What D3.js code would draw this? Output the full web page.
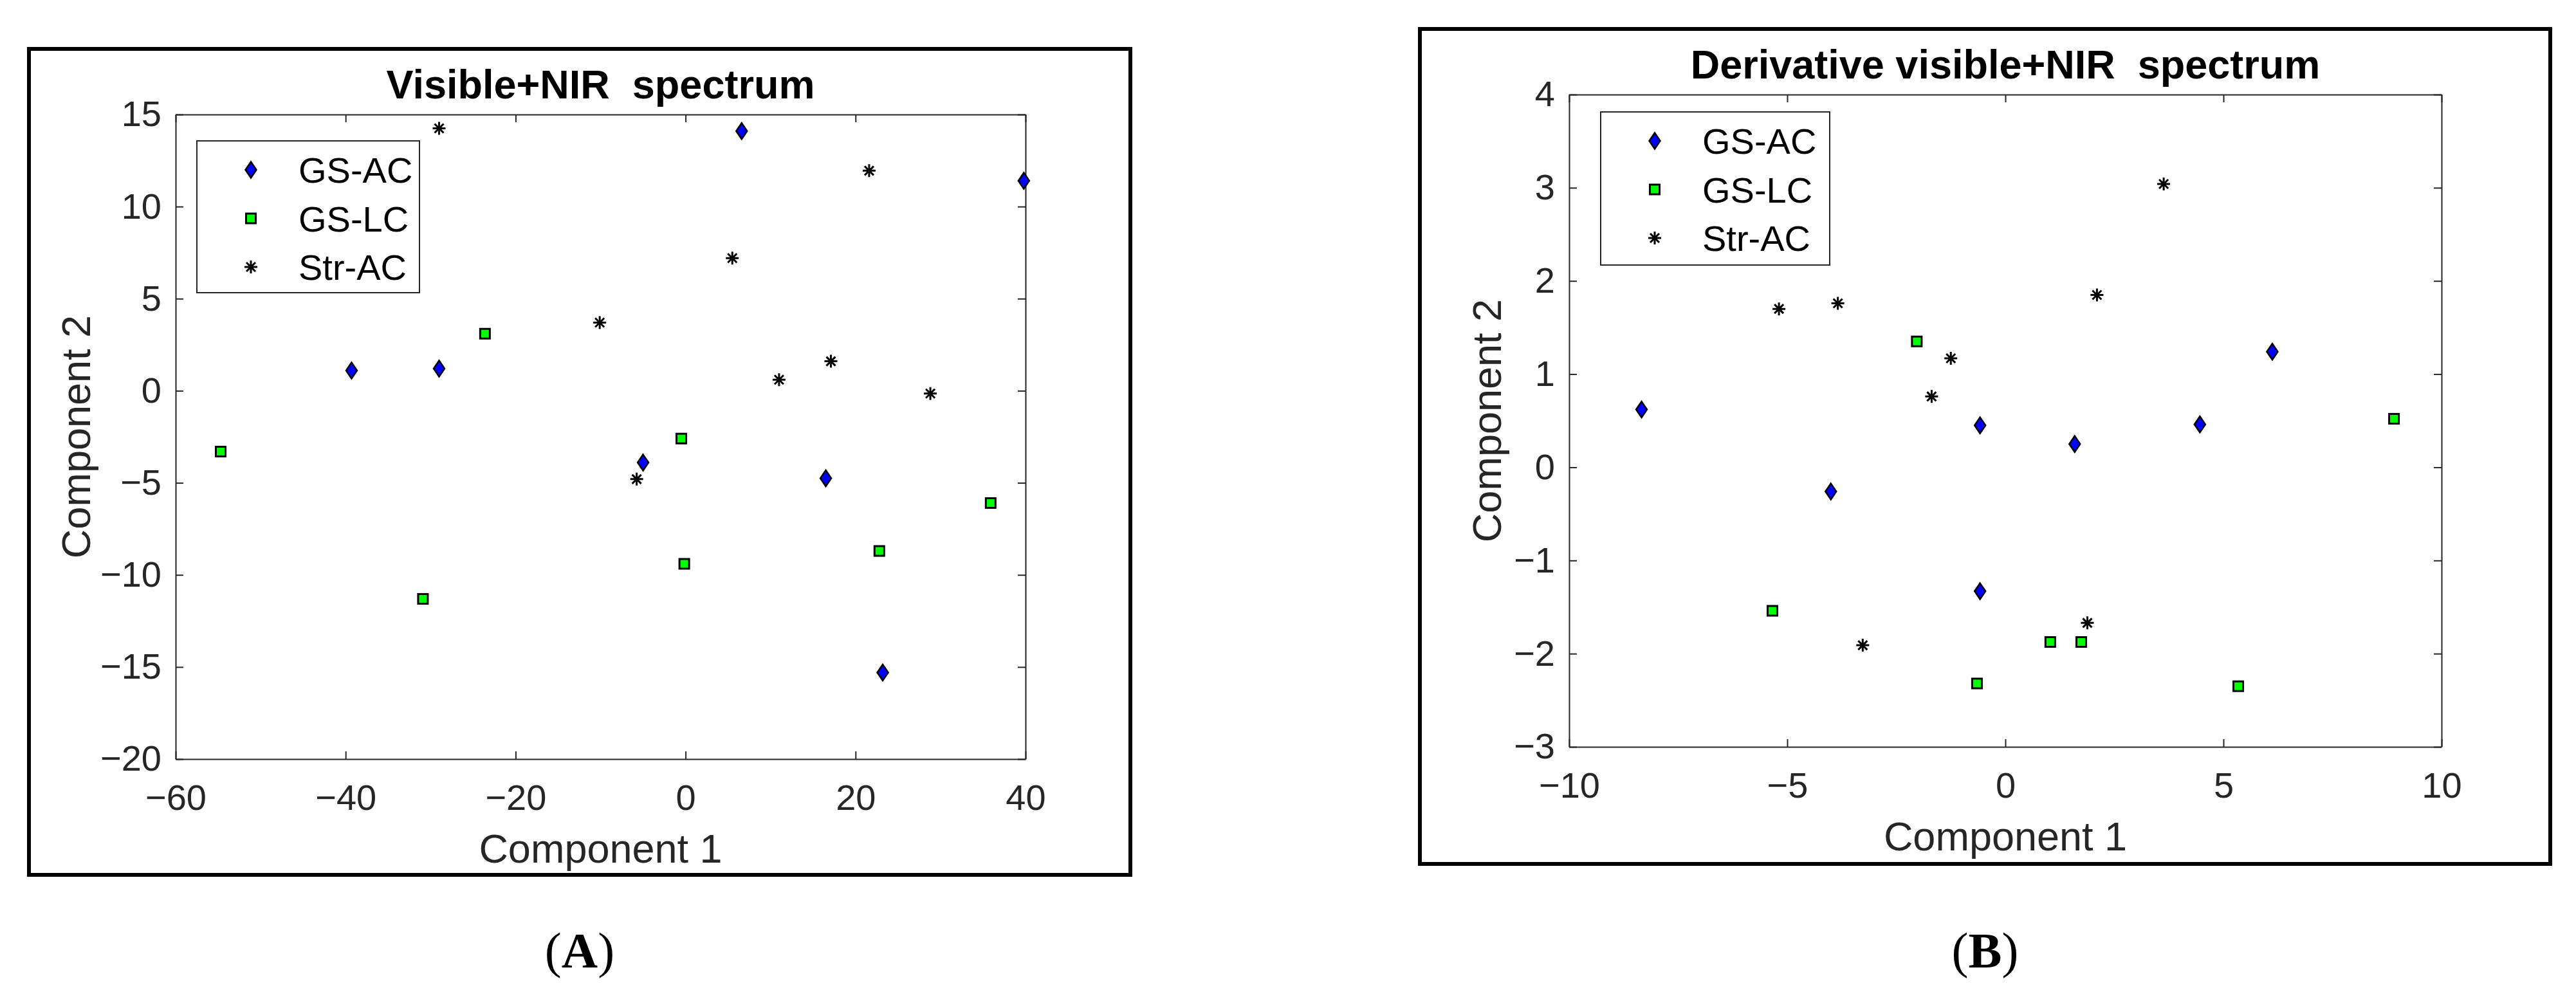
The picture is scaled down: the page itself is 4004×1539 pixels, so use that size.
<!DOCTYPE html>
<html>
<head>
<meta charset="utf-8">
<script src="https://cdn.jsdelivr.net/npm/d3@7"></script>
<style>
  body { margin: 0; background: #fff; }
  text { font-family: "Liberation Sans", Arial, Helvetica, sans-serif; }
</style>
</head>
<body>
<div id="chart"></div>
<script>
// ---- data ----
var seriesNames = ["GS-AC", "GS-LC", "Str-AC"];

// (A) Visible+NIR spectrum
var visGsAc  = [[-39.3, 1.1], [-29.0, 1.2], [6.6, 14.1], [39.8, 11.4], [-5.0, -3.9], [16.5, -4.75], [23.2, -15.3]];
var visGsLc  = [[-54.7, -3.3], [-30.9, -11.3], [-23.6, 3.1], [-0.5, -2.6], [-0.15, -9.4], [22.8, -8.7], [35.9, -6.1]];
var visStrAc = [[-29.0, 14.25], [21.6, 11.95], [5.5, 7.2], [-10.1, 3.7], [11.0, 0.6], [17.1, 1.6], [28.8, -0.15], [-5.75, -4.8]];
var visXTicks = [-60, -40, -20, 0, 20, 40];
var visYTicks = [-20, -15, -10, -5, 0, 5, 10, 15];

// (B) Derivative visible+NIR spectrum
var derGsAc  = [[-8.34, 0.62], [-4.0, -0.26], [-0.58, 0.45], [-0.58, -1.33], [1.59, 0.25], [4.46, 0.46], [6.12, 1.24]];
var derGsLc  = [[-5.34, -1.54], [-2.03, 1.35], [-0.65, -2.32], [1.03, -1.875], [1.74, -1.875], [5.34, -2.35], [8.91, 0.52]];
var derStrAc = [[-5.19, 1.70], [-3.84, 1.76], [-1.25, 1.17], [-1.69, 0.76], [2.10, 1.85], [3.63, 3.04], [-3.27, -1.91], [1.88, -1.67]];
var derXTicks = [-10, -5, 0, 5, 10];
var derYTicks = [-3, -2, -1, 0, 1, 2, 3, 4];

// ---- marker shapes ----
var markers = {
  diamond:  { d: "M0,-12.5L8.5,0L0,12.5L-8.5,0Z", fill: "#0000ff", stroke: "#000", width: 2.5 },
  square:   { d: "M-7.5,-7.5H7.5V7.5H-7.5Z", fill: "#00ff00", stroke: "#000", width: 3 },
  asterisk: { d: "M0,-10V10M-10,0H10M-7,-7L7,7M-7,7L7,-7", fill: "none", stroke: "#000", width: 3 }
};

var axisColor = "#262626";
var tickFmt = d3.format("d");

var chart = {
  createSVG: function(selector, width, height) {
    return d3.select(selector).append("svg")
        .attr("width", width)
        .attr("height", height)
        .style("display", "block")
        .style("background", "#fff");
  },

  createFrame: function(svg, f) {
    svg.append("rect")
        .attr("x", f.x).attr("y", f.y)
        .attr("width", f.w).attr("height", f.h)
        .style("fill", "none")
        .style("stroke", "#000")
        .style("stroke-width", 6);
  },

  styleAxis: function(g) {
    g.attr("color", axisColor)
        .attr("font-size", 56)
        .attr("font-family", "'Liberation Sans', Arial, sans-serif");
    g.selectAll("path, line").style("stroke-width", 2);
    return g;
  },

  createAxes: function(svg, p) {
    var x = d3.scaleLinear().domain(p.xDomain).range([p.left, p.right]);
    var y = d3.scaleLinear().domain(p.yDomain).range([p.bottom, p.top]);

    this.styleAxis(svg.append("g")
        .attr("transform", "translate(0," + p.bottom + ")")
        .call(d3.axisBottom(x).tickValues(p.xTicks).tickFormat(tickFmt)
          .tickSizeInner(-12).tickSizeOuter(0).tickPadding(39)));
    this.styleAxis(svg.append("g")
        .attr("transform", "translate(" + p.left + ",0)")
        .call(d3.axisLeft(y).tickValues(p.yTicks).tickFormat(tickFmt)
          .tickSizeInner(-12).tickSizeOuter(0).tickPadding(22)));
    this.styleAxis(svg.append("g")
        .attr("transform", "translate(0," + p.top + ")")
        .call(d3.axisTop(x).tickValues(p.xTicks).tickSizeInner(-12).tickSizeOuter(0).tickFormat("")));
    this.styleAxis(svg.append("g")
        .attr("transform", "translate(" + p.right + ",0)")
        .call(d3.axisRight(y).tickValues(p.yTicks).tickSizeInner(-12).tickSizeOuter(0).tickFormat("")));

    return { x: x, y: y };
  },

  createDots: function(svg, scales, data, marker) {
    svg.append("g").selectAll("path")
        .data(data)
        .enter().append("path")
        .attr("d", marker.d)
        .attr("transform", function(d) { return "translate(" + scales.x(d[0]) + "," + scales.y(d[1]) + ")"; })
        .style("fill", marker.fill)
        .style("stroke", marker.stroke)
        .style("stroke-width", marker.width)
        .style("stroke-linejoin", "miter");
  },

  createLabels: function(svg, p) {
    var cx = (p.left + p.right) / 2;
    svg.append("text")
        .attr("x", cx).attr("y", p.top - 25)
        .attr("text-anchor", "middle")
        .attr("font-size", 63)
        .attr("font-weight", "bold")
        .style("fill", "#000")
        .style("white-space", "pre")
        .text(p.title);

    svg.append("text")
        .attr("x", cx).attr("y", p.bottom + 161)
        .attr("text-anchor", "middle")
        .attr("font-size", 63)
        .style("fill", axisColor)
        .text("Component 1");

    svg.append("text")
        .attr("transform", "translate(" + p.yLabelX + "," + ((p.top + p.bottom) / 2) + ") rotate(-90)")
        .attr("text-anchor", "middle")
        .attr("font-size", 63)
        .style("fill", axisColor)
        .text("Component 2");

    var tag = svg.append("text")
        .attr("x", p.frame.x + p.frame.w / 2).attr("y", 1504)
        .attr("text-anchor", "middle")
        .attr("font-size", 78)
        .style("font-family", "'Liberation Serif', 'Times New Roman', serif")
        .style("fill", "#000");
    tag.append("tspan").text("(");
    tag.append("tspan").attr("font-weight", "bold").text(p.tag);
    tag.append("tspan").text(")");
  },

  createLegend: function(svg, lg, keys) {
    var legend = svg.append("g")
        .attr("class", "legend")
        .attr("transform", "translate(" + lg.x + "," + lg.y + ")");

    legend.append("rect")
        .attr("width", lg.w).attr("height", lg.h)
        .style("fill", "#fff")
        .style("stroke", axisColor)
        .style("stroke-width", 2);

    legend.selectAll("g.key").data(keys)
        .enter()
        .append("g")
        .attr("class", "key")
        .each(function(d, i) {
          var g = d3.select(this);
          var yy = 45 + i * 75.5;
          g.append("path")
            .attr("d", d.marker.d)
            .attr("transform", "translate(84," + yy + ")")
            .style("fill", d.marker.fill)
            .style("stroke", d.marker.stroke)
            .style("stroke-width", d.marker.width);
          g.append("text")
            .attr("x", 158)
            .attr("y", yy)
            .attr("dy", "0.36em")
            .attr("font-size", 56)
            .style("fill", "#000")
            .text(d.name);
        });
  }
};

var panels = [
  {
    tag: "A", title: "Visible+NIR  spectrum",
    frame: { x: 45, y: 76, w: 1712, h: 1284 },
    left: 273, right: 1594, top: 178, bottom: 1180, yLabelX: 140,
    xDomain: [-60, 40], yDomain: [-20, 15], xTicks: visXTicks, yTicks: visYTicks,
    legend: { x: 306, y: 219, w: 346, h: 236 },
    series: [visGsAc, visGsLc, visStrAc]
  },
  {
    tag: "B", title: "Derivative visible+NIR  spectrum",
    frame: { x: 2207, y: 45, w: 1757, h: 1298 },
    left: 2439, right: 3795, top: 147, bottom: 1161, yLabelX: 2333,
    xDomain: [-10, 10], yDomain: [-3, 4], xTicks: derXTicks, yTicks: derYTicks,
    legend: { x: 2488, y: 174, w: 356, h: 238 },
    series: [derGsAc, derGsLc, derStrAc]
  }
];

var markerList = [markers.diamond, markers.square, markers.asterisk];
var svg = chart.createSVG("#chart", 4004, 1539);

panels.forEach(function(p) {
  chart.createFrame(svg, p.frame);
  var scales = chart.createAxes(svg, p);
  p.series.forEach(function(s, i) {
    chart.createDots(svg, scales, s, markerList[i]);
  });
  chart.createLegend(svg, p.legend, seriesNames.map(function(n, i) {
    return { name: n, marker: markerList[i] };
  }));
  chart.createLabels(svg, p);
});
</script>
</body>
</html>
